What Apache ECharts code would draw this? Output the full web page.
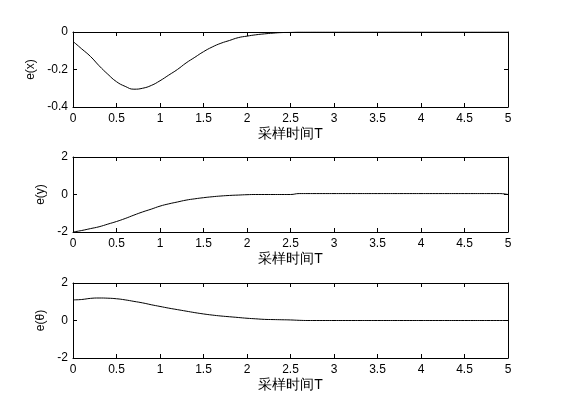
<!doctype html>
<html>
<head>
<meta charset="UTF-8">
<title>errors</title>
<script src="https://cdn.jsdelivr.net/npm/echarts@6/dist/echarts.min.js"></script>
<style>
  html, body { margin: 0; background: #fff; }
  #main { width: 561px; height: 420px; }
</style>
</head>
<body>
<div id="main"></div>
<script>
var times = [0,0.1,0.2,0.3,0.4,0.5,0.6,0.7,0.8,0.9,1,1.1,1.2,1.3,1.4,1.5,1.6,1.7,1.8,1.9,2,
  2.1,2.2,2.3,2.4,2.5,2.6,2.7,2.8,2.9,3,3.1,3.2,3.3,3.4,3.5,3.6,3.7,3.8,3.9,4,
  4.1,4.2,4.3,4.4,4.5,4.6,4.7,4.8,4.9,5];
var ex = [-0.05,-0.09,-0.13,-0.18,-0.225,-0.265,-0.29,-0.305,-0.3,-0.285,-0.26,
  -0.23,-0.2,-0.165,-0.135,-0.105,-0.08,-0.06,-0.045,-0.03,-0.022,
  -0.015,-0.01,-0.006,-0.003,-0.002,0,0,0,0,0,0,0,0,0,0,0,0,0,0,0,0,0,0,0,0,0,0,0,0,0];
var ey = [-2,-1.92,-1.82,-1.72,-1.58,-1.44,-1.28,-1.1,-0.93,-0.78,-0.62,
  -0.5,-0.4,-0.3,-0.23,-0.17,-0.12,-0.08,-0.05,-0.03,-0.01,
  0,0,0,0,0,0.05,0.05,0.05,0.05,0.05,0.05,0.05,0.05,0.05,0.05,0.05,0.05,0.05,0.05,0.05,
  0.05,0.05,0.05,0.05,0.05,0.05,0.05,0.05,0.05,0];
var eth = [1.1,1.12,1.18,1.2,1.19,1.16,1.1,1.02,0.94,0.84,0.75,
  0.66,0.58,0.5,0.42,0.35,0.29,0.24,0.2,0.16,0.12,
  0.09,0.06,0.05,0.04,0.03,0.01,0,0,0,0,0,0,0,0,0,0,0,0,0,0,0,0,0,0,0,0,0,0,0,0];
var yNames = ['e(x)', 'e(y)', 'e(\u03b8)'];
var yRanges = [[-0.4, 0, 0.2], [-2, 2, 2], [-2, 2, 2]];
var series = [ex, ey, eth];
var tops = [32, 157, 283];
var xLabel = '采样时间T';

var font = 'Liberation Sans, Arial, sans-serif';
var lineStyle = { color: '#000', width: 1 };
var grids = [], xAxes = [], yAxes = [], ser = [];
for (var i = 0; i < 3; i++) {
  grids.push({ left: 73, width: 435, top: tops[i], height: 75 });
  var base = { gridIndex: i, type: 'value', min: 0, max: 5, interval: 0.5,
    axisLine: { lineStyle: lineStyle, onZero: false },
    axisTick: { inside: true, length: 4, lineStyle: lineStyle },
    splitLine: { show: false } };
  xAxes.push(Object.assign({}, base, { position: 'bottom', name: xLabel,
    nameLocation: 'middle', nameGap: 20,
    nameTextStyle: { color: '#000', fontSize: 14, fontFamily: font },
    axisLabel: { color: '#000', fontSize: 12, fontFamily: font, margin: 6 } }));
  xAxes.push(Object.assign({}, base, { position: 'top', axisLabel: { show: false } }));
  var r = yRanges[i];
  var yb = { gridIndex: i, type: 'value', min: r[0], max: r[1], interval: r[2],
    axisLine: { show: true, lineStyle: lineStyle, onZero: false },
    axisTick: { show: true, inside: true, length: 4, lineStyle: lineStyle },
    splitLine: { show: false } };
  yAxes.push(Object.assign({}, yb, { position: 'left', name: yNames[i],
    nameLocation: 'middle', nameGap: i === 0 ? 30 : 22, nameRotate: 90,
    nameTextStyle: { color: '#000', fontSize: 12, fontFamily: font },
    axisLabel: { color: '#000', fontSize: 12, fontFamily: font, margin: 5 } }));
  yAxes.push(Object.assign({}, yb, { position: 'right', axisLabel: { show: false } }));
  ser.push({ type: 'line', xAxisIndex: i * 2, yAxisIndex: i * 2, showSymbol: false,
    smooth: true, lineStyle: lineStyle, animation: false,
    data: times.map(function (t, k) { return [t, series[i][k]]; }) });
}

var chart = echarts.init(document.getElementById('main'));
chart.setOption({ backgroundColor: '#fff', animation: false,
  grid: grids, xAxis: xAxes, yAxis: yAxes, series: ser });
</script>
</body>
</html>
